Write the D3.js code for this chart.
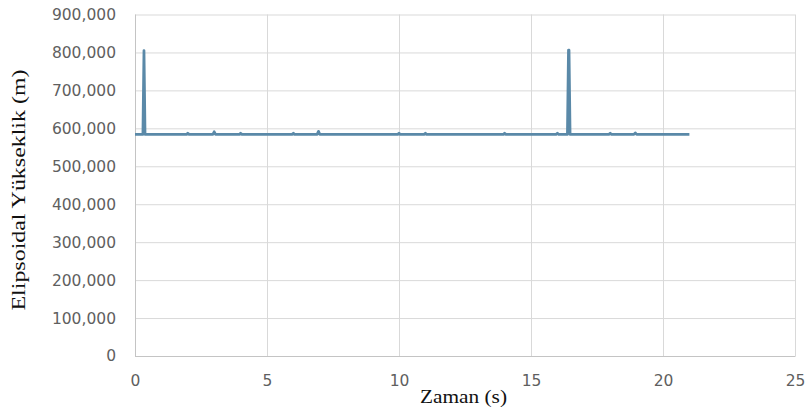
<!DOCTYPE html>
<html>
<head>
<meta charset="utf-8">
<script src="https://cdn.jsdelivr.net/npm/d3@7"></script>
<style>
  html, body { margin: 0; padding: 0; background: #ffffff; }
  svg { display: block; }
</style>
</head>
<body>
<svg id="chart" width="806" height="419"></svg>
<script>
// Ellipsoidal height samples over time
const timeSec = [0, 0.30, 0.34, 0.38, 1.95, 2.0, 2.05, 2.95, 3.0, 3.05, 3.95, 4.0, 4.05,
  5.95, 6.0, 6.05, 6.9, 6.95, 7.0, 9.95, 10.0, 10.05, 10.95, 11.0, 11.05,
  13.95, 14.0, 14.05, 15.95, 16.0, 16.05, 16.38, 16.42, 16.44, 16.48,
  17.95, 18.0, 18.05, 18.9, 18.95, 19.0, 21.0];
const heightM = [584000, 584000, 805000, 584000, 584000, 587000, 584000, 584000, 591000, 584000, 584000, 587000, 584000,
  584000, 587000, 584000, 584000, 592000, 584000, 584000, 587000, 584000, 584000, 587000, 584000,
  584000, 587000, 584000, 584000, 587000, 584000, 584000, 806000, 806000, 584000,
  584000, 587000, 584000, 584000, 588000, 584000, 584000];

const xTicks = [0, 5, 10, 15, 20, 25];
const yTicks = [0, 100000, 200000, 300000, 400000, 500000, 600000, 700000, 800000, 900000];

const xTitle = "Zaman (s)";
const yTitle = "Elipsoidal Yükseklik (m)";

const svg = d3.select("#chart");
const plot = { left: 135, right: 795, top: 14.5, bottom: 356 };

const x = d3.scaleLinear().domain([0, 25]).range([plot.left, plot.right]);
const y = d3.scaleLinear().domain([0, 900000]).range([plot.bottom, plot.top]);
const fmt = d3.format(",");

// horizontal gridlines
svg.append("g")
  .selectAll("line")
  .data(yTicks.filter(d => d > 0))
  .join("line")
  .attr("x1", plot.left).attr("x2", plot.right)
  .attr("y1", d => y(d) + 0.5).attr("y2", d => y(d) + 0.5)
  .attr("stroke", "#d9d9d9").attr("stroke-width", 1);

// vertical gridlines
svg.append("g")
  .selectAll("line")
  .data(xTicks.filter(d => d > 0))
  .join("line")
  .attr("x1", d => x(d) + 0.5).attr("x2", d => x(d) + 0.5)
  .attr("y1", plot.top).attr("y2", plot.bottom)
  .attr("stroke", "#d9d9d9").attr("stroke-width", 1);

// axis lines
svg.append("line")
  .attr("x1", plot.left + 0.5).attr("x2", plot.left + 0.5)
  .attr("y1", plot.top).attr("y2", plot.bottom + 0.5)
  .attr("stroke", "#c4c4c4");
svg.append("line")
  .attr("x1", plot.left).attr("x2", plot.right + 0.5)
  .attr("y1", plot.bottom + 0.5).attr("y2", plot.bottom + 0.5)
  .attr("stroke", "#c4c4c4");

// y axis labels
const yAxis = d3.axisLeft(y).tickValues(yTicks).tickFormat(fmt).tickSize(0).tickPadding(19);
const gy = svg.append("g").attr("transform", `translate(${plot.left},0)`).call(yAxis);
gy.select(".domain").remove();
gy.selectAll("text")
  .attr("fill", "#5f5f5f")
  .style("font-family", "'DejaVu Sans', sans-serif")
  .style("font-size", "15.5px");

// x axis labels
const xAxis = d3.axisBottom(x).tickValues(xTicks).tickFormat(d3.format("d")).tickSize(0).tickPadding(19);
const gx = svg.append("g").attr("transform", `translate(0,${plot.bottom})`).call(xAxis);
gx.select(".domain").remove();
gx.selectAll("text")
  .attr("fill", "#5f5f5f")
  .style("font-family", "'DejaVu Sans', sans-serif")
  .style("font-size", "15.5px");

// series line
const series = timeSec.map((t, i) => ({ t, h: heightM[i] }));
const line = d3.line().x(d => x(d.t)).y(d => y(d.h));
svg.append("path")
  .datum(series)
  .attr("d", line)
  .attr("fill", "none")
  .attr("stroke", "#5a89a8")
  .attr("stroke-width", 2.75)
  .attr("stroke-linejoin", "round");

// axis titles
svg.append("text")
  .attr("x", 463.5).attr("y", 403)
  .attr("text-anchor", "middle")
  .attr("textLength", 87)
  .attr("lengthAdjust", "spacingAndGlyphs")
  .style("font-family", "'Liberation Serif', serif")
  .style("font-size", "18px")
  .attr("fill", "#111")
  .text(xTitle);

svg.append("text")
  .attr("transform", "translate(25,190) rotate(-90)")
  .attr("text-anchor", "middle")
  .attr("textLength", 241)
  .attr("lengthAdjust", "spacingAndGlyphs")
  .style("font-family", "'Liberation Serif', serif")
  .style("font-size", "19px")
  .attr("fill", "#111")
  .text(yTitle);
</script>
</body>
</html>
